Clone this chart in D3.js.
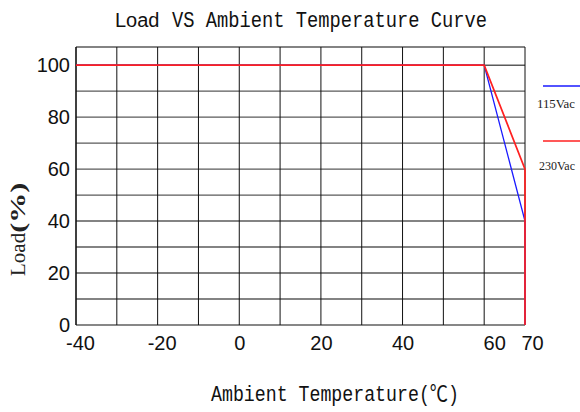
<!DOCTYPE html>
<html><head><meta charset="utf-8">
<script src="https://cdn.jsdelivr.net/npm/d3@7"></script>
<style>body{margin:0;background:#fff}svg{display:block}</style>
</head><body><svg id="c" width="580" height="412"></svg>
<script>
const temps = [-40, 60, 70, 70];
const load115 = [100, 100, 40, 0];
const load230 = [100, 100, 60, 0];
const seriesNames = ["115Vac", "230Vac"];
const seriesColors = ["#1a1aff", "#ff2020"];
const xTicks = [-40, -20, 0, 20, 40, 60, 70];
const xGrid = [-40, -30, -20, -10, 0, 10, 20, 30, 40, 50, 60, 70];
const yTicks = [0, 20, 40, 60, 80, 100];
const yGrid = [10, 20, 30, 40, 50, 60, 70, 80, 90, 100];
const yTop = 107;

const svg = d3.select("#c");
const x = d3.scaleLinear().domain([-40, 70]).range([76, 525]);
const y = d3.scaleLinear().domain([0, yTop]).range([325, 47]);

// horizontal grid
svg.append("g").selectAll("line").data(yGrid.concat([yTop])).join("line")
  .attr("x1", x(-40)).attr("x2", x(70))
  .attr("y1", d => y(d)).attr("y2", d => y(d))
  .attr("stroke", "#5a5a5a").attr("stroke-width", 1.4);
// vertical grid
svg.append("g").selectAll("line").data(xGrid).join("line")
  .attr("x1", d => x(d)).attr("x2", d => x(d))
  .attr("y1", y(0)).attr("y2", y(yTop))
  .attr("stroke", "#111").attr("stroke-width", 1);
// bottom axis line
svg.append("line").attr("x1", x(-40)).attr("x2", x(70)).attr("y1", y(0)).attr("y2", y(0))
  .attr("stroke", "#111").attr("stroke-width", 1.2);

// axes labels via d3 axes
const xAxis = svg.append("g").attr("transform", `translate(0,${y(0)})`)
  .call(d3.axisBottom(x).tickValues(xTicks).tickSize(0).tickPadding(11).tickFormat(d => String(d)));
xAxis.select(".domain").remove();
xAxis.selectAll("text").attr("font-family", "Liberation Sans, Arial, sans-serif").attr("font-size", 20).attr("fill", "#111")
  .attr("dx", d => d === 60 ? 10 : d === 70 ? 7 : d < 0 ? 4 : 0);

const yAxis = svg.append("g").attr("transform", `translate(${x(-40)},0)`)
  .call(d3.axisLeft(y).tickValues(yTicks).tickSize(0).tickPadding(6).tickFormat(d => String(d)));
yAxis.select(".domain").remove();
yAxis.selectAll("text").attr("font-family", "Liberation Sans, Arial, sans-serif").attr("font-size", 20).attr("fill", "#111");

// left border
svg.append("line").attr("x1", x(-40)).attr("x2", x(-40)).attr("y1", y(0)).attr("y2", y(yTop))
  .attr("stroke", "#111").attr("stroke-width", 1.2);

// series
const line = d3.line().x(d => x(d[0])).y(d => y(d[1]));
[load115, load230].forEach((vals, i) => {
  svg.append("path").datum(temps.map((t, k) => [t, vals[k]]))
    .attr("d", line).attr("fill", "none")
    .attr("stroke", seriesColors[i]).attr("stroke-width", i ? 1.7 : 1.3);
});

// legend
const legY = [86, 141];
const legTextY = [108, 170];
seriesNames.forEach((n, i) => {
  svg.append("line").attr("x1", 543).attr("x2", 580).attr("y1", legY[i]).attr("y2", legY[i])
    .attr("stroke", seriesColors[i]).attr("stroke-width", 1.4);
  svg.append("text").attr("x", 537 + (i ? 2 : 0)).attr("y", legTextY[i]).text(n)
    .attr("font-family", "Liberation Serif, Times New Roman, serif").attr("font-size", 13)
    .attr("fill", "#222").attr("textLength", i ? 36 : 38).attr("lengthAdjust", "spacingAndGlyphs");
});

// title
const title = svg.append("text").attr("x", 115).attr("y", 27).attr("fill", "#111");
title.append("tspan").text("Load").attr("font-family", "Liberation Sans, Arial, sans-serif").attr("font-size", 20);
title.append("tspan").attr("x", 172).text("VS Ambient Temperature Curve")
  .attr("font-family", "Liberation Mono, DejaVu Sans Mono, monospace").attr("font-size", 22)
  .attr("textLength", 315).attr("lengthAdjust", "spacingAndGlyphs");

// x axis title
svg.append("text").attr("x", 211).attr("y", 401).attr("fill", "#111")
  .text("Ambient Temperature(℃)")
  .attr("font-family", "Liberation Mono, Noto Sans CJK SC, monospace").attr("font-size", 22)
  .attr("textLength", 248).attr("lengthAdjust", "spacingAndGlyphs");

// y axis title
const yt = svg.append("text").attr("transform", "translate(25,276) rotate(-90)").attr("fill", "#222");
yt.append("tspan").text("Load").attr("font-family", "Liberation Serif, Times New Roman, serif").attr("font-size", 21);
yt.append("tspan").text("(%)").attr("font-family", "Liberation Serif, Times New Roman, serif").attr("font-size", 20)
  .attr("font-weight", "bold").attr("textLength", 50).attr("lengthAdjust", "spacingAndGlyphs");
</script></body></html>
